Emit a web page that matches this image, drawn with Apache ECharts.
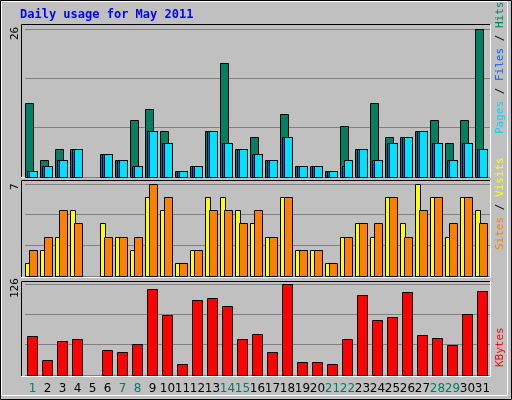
<!DOCTYPE html>
<html><head><meta charset="utf-8">
<script src="https://cdn.jsdelivr.net/npm/echarts@6/dist/echarts.min.js"></script>
<style>html,body{margin:0;padding:0;background:#c0c0c0}#c{width:512px;height:400px}</style>
</head><body><div id="c"></div>
<script>
const days = ['1','2','3','4','5','6','7','8','9','10','11','12','13','14','15','16','17','18','19','20','21','22','23','24','25','26','27','28','29','30','31'];
const weekend = ['1','7','8','14','15','21','22','28','29'];
const hits  = [13,3,5,5,0,4,3,10,12,8,1,2,8,20,5,7,3,11,2,2,1,9,5,13,7,7,8,10,6,10,26];
const files = [1,2,3,5,0,4,3,2,8,6,1,2,8,6,5,4,3,7,2,2,1,2,5,3,6,7,8,6,3,6,5];
const pages = [1,2,3,5,0,4,3,2,8,6,1,2,8,6,5,4,3,7,2,2,1,3,5,3,6,7,8,6,3,6,5];
const visits= [1,2,3,5,0,4,3,2,6,5,1,2,6,6,5,4,3,6,2,2,1,3,4,3,6,4,7,6,3,6,5];
const sites = [2,3,5,4,0,3,3,3,7,6,1,2,5,5,4,5,3,6,2,2,1,3,4,4,6,3,5,6,4,6,4];
const kbytes= [54,21,47,50,0,35,32,43,119,83,15,104,107,96,50,57,32,126,18,18,15,50,111,76,80,115,55,51,42,84,116];
const maxTop = 26, maxMid = 7, maxBot = 126;

function barSeries(data, grid, color, a, b, z){
  return {type:'custom', xAxisIndex:grid, yAxisIndex:grid, z:z,
    data: data.map((v,i)=>[i,v]),
    renderItem:function(params, api){
      const v = api.value(1); if(!v) return null;
      const p1 = api.coord([api.value(0), v]);
      const p0 = api.coord([api.value(0), 0]);
      const w = api.size([1,0])[0];
      const left = p0[0] - w/2;
      return {type:'rect', shape:{x:Math.round(left + a*w)+0.5, y:Math.round(p1[1])+0.5, width:Math.round((b-a)*w), height:Math.round(p0[1]-p1[1])},
        style:{fill:color, stroke:'#000', lineWidth:1}};
    }};
}
const grids = [{left:25,right:22,top:29,height:148},{left:25,right:22,top:184,height:92},{left:25,right:22,top:284,height:91}];
const maxes = [maxTop,maxMid,maxBot];
const xAxes = grids.map((g,i)=>({type:'category', gridIndex:i, data:days,
  axisLine:{show:false}, axisTick:{show:false},
  axisLabel:{show:i===2, interval:0, margin:8, fontFamily:'DejaVu Sans', fontSize:12,
    formatter:function(v){return weekend.includes(v)?'{w|'+v+'}':'{d|'+v+'}';},
    rich:{w:{color:'#008060',fontSize:12,fontFamily:'DejaVu Sans'},d:{color:'#000',fontSize:12,fontFamily:'DejaVu Sans'}}}}));
const yAxes = grids.map((g,i)=>({type:'value', gridIndex:i, min:0, max:maxes[i], interval:maxes[i]/3,
  axisLine:{show:false}, axisTick:{show:false}, axisLabel:{show:false},
  splitLine:{show:true, lineStyle:{color:'#808080', width:1}}}));

const frames = [[21,24,469,153],[21,180,469,97],[21,281,469,95]];
const graphics = [
  {type:'rect', shape:{x:0.5,y:0.5,width:511,height:399}, style:{fill:'none',stroke:'#000',lineWidth:1}, z:-10},
  {type:'rect', shape:{x:1.5,y:1.5,width:506,height:394}, style:{fill:'none',stroke:'#fff',lineWidth:1}, z:-10},
  {type:'text', x:20, y:9, style:{text:'Daily usage for May 2011', fill:'#0000ff', font:'bold 12px "DejaVu Sans Mono"'}},
];
frames.forEach(f=>{
  graphics.push({type:'rect', z:-5, shape:{x:f[0]+0.5,y:f[1]+0.5,width:f[2],height:f[3]}, style:{fill:'#c0c0c0',stroke:'#fff',lineWidth:1}});
  graphics.push({type:'polyline', z:-4, shape:{points:[[f[0]+0.5,f[1]+f[3]],[f[0]+0.5,f[1]+0.5],[f[0]+f[2],f[1]+0.5]]}, style:{fill:'none',stroke:'#000',lineWidth:1}});
});
function vtext(x, y, rich, txt){
  graphics.push({type:'text', x:x, y:y, rotation:Math.PI/2, style:{text:txt, rich:rich, font:'11px "DejaVu Sans Mono"', align:'left', verticalAlign:'middle'}});
}
const rf = (c)=>({fill:c, font:'11px "DejaVu Sans Mono"'});
vtext(500, 134, {p:rf('#00d8f8'),f:rf('#0060ff'),h:rf('#008060'),k:rf('#000')}, '{p|Pages}{k| / }{f|Files}{k| / }{h|Hits}');
vtext(500, 250, {s:rf('#ff8000'),v:rf('#ffff00'),k:rf('#000')}, '{s|Sites}{k| / }{v|Visits}');
vtext(500, 367, {r:rf('#ff0000')}, '{r|KBytes}');
vtext(15, 40, {n:rf('#000')}, '{n|26}');
vtext(15, 190, {n:rf('#000')}, '{n|7}');
vtext(15, 298, {n:rf('#000')}, '{n|126}');

const chart = echarts.init(document.getElementById('c'));
chart.setOption({
  backgroundColor:'#c0c0c0', animation:false,
  grid:grids, xAxis:xAxes, yAxis:yAxes, graphic:graphics,
  series:[
    barSeries(hits,0,'#008060',0,0.51,3),
    barSeries(files,0,'#0060ff',0.11,0.78,4),
    barSeries(pages,0,'#00e0ff',0.25,0.78,5),
    barSeries(visits,1,'#ffff00',0,0.3,3),
    barSeries(sites,1,'#ff8000',0.27,0.78,4),
    barSeries(kbytes,2,'#ff0000',0.11,0.78,3)
  ]
});
</script></body></html>
